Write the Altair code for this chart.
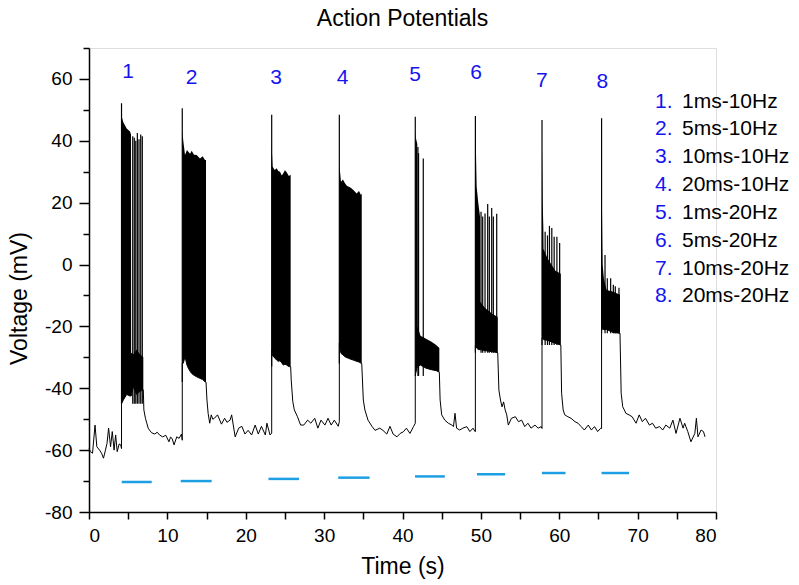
import altair as alt
import pandas as pd

# ---- recorded membrane potential (time in s, voltage in mV) ----
# resting stretches between stimulation trains
rest_t = [
    [0.0, 0.2, 0.45, 0.77, 1.0, 1.35, 1.6, 1.85, 2.1, 2.3, 2.5, 2.75, 2.97, 3.2, 3.4, 3.6, 3.85, 4.05, 4.15],
    [6.93, 7.0, 7.2, 7.4, 7.55, 7.8, 8.0, 8.4, 8.7, 9.0, 9.4, 9.8, 10.2, 10.4, 10.6, 10.85, 11.2, 11.5, 11.8, 11.9],
    [14.93, 15.05, 15.2, 15.4, 15.6, 15.8, 16.0, 16.4, 16.9, 17.3, 17.6, 18.0, 18.2, 18.65, 19.1, 19.5, 19.9,
     20.3, 20.75, 21.2, 21.6, 22.0, 22.5, 22.7, 23.1, 23.31],
    [25.73, 25.8, 26.0, 26.2, 26.6, 27.0, 27.4, 27.9, 28.3, 28.8, 29.2, 29.6, 30.1, 30.5, 30.9, 31.3, 31.8, 31.94],
    [34.8, 35.0, 35.2, 35.6, 36.1, 36.5, 37.1, 37.5, 38.0, 38.4, 38.8, 39.3, 39.7, 40.1, 40.5, 40.95, 41.4, 41.63],
    [44.7, 44.8, 45.0, 45.4, 45.85, 46.3, 46.5, 46.7, 46.9, 47.3, 47.7, 48.2, 48.6, 49.0, 49.25, 49.3],
    [52.15, 52.3, 52.5, 52.7, 52.9, 53.1, 53.3, 53.5, 53.9, 54.4, 54.8, 55.2, 55.6, 56.0, 56.4, 56.9, 57.3, 57.7, 57.8],
    [60.2, 60.3, 60.5, 60.7, 61.1, 61.5, 62.0, 62.4, 62.8, 63.2, 63.7, 64.1, 64.5, 64.9, 65.3, 65.4],
    [67.75, 67.9, 68.1, 68.3, 68.5, 68.9, 69.3, 69.8, 70.2, 70.6, 71.0, 71.5, 71.9, 72.3, 72.8, 73.2, 73.6, 74.1,
     74.5, 74.9, 75.4, 75.8, 76.0, 76.4, 76.8, 77.3, 77.5, 77.7, 78.1, 78.4, 78.6],
]
rest_v = [
    [-59.5, -60.5, -61, -51.9, -58.9, -60, -61, -62.6, -60, -57.8, -52.9, -58.9, -54, -60, -55.1, -60.5, -58, -58.3, -59.5],
    [-40.5, -47, -49.7, -51.5, -52.9, -53.8, -54.4, -54.8, -54.2, -55.1, -55.7, -55.2, -57.3, -55.8, -56.2, -58.3, -55.7, -56.2, -54.8, -56.8],
    [-38, -43.8, -48.1, -51.3, -48.6, -50, -49.7, -48.6, -51.6, -49.7, -51, -50.3, -48.6, -55.7, -52.9, -52.3, -54.8,
     -53.6, -55.1, -51.9, -54.8, -52.3, -55.1, -51.3, -55.1, -54.5],
    [-33, -37.3, -44.3, -47, -49.2, -51.9, -51.9, -50.3, -51.3, -49.7, -52.9, -50.3, -51.9, -49.7, -51.9, -50.3, -52.3, -50.8],
    [-32, -43.8, -47, -50.3, -52.3, -53.6, -52.9, -53.6, -54.8, -52.3, -54.8, -55.7, -54.6, -54.1, -52.9, -54.6, -52.4, -51.3],
    [-34.8, -43.8, -48.6, -50.3, -51.3, -51.9, -52.4, -48.1, -52.9, -53.5, -52.9, -52.4, -54, -52.9, -54, -54],
    [-28.5, -40.6, -43.8, -46, -44.4, -47, -48.6, -51.9, -49.7, -49.2, -50.8, -50.3, -52.4, -51.3, -52.9, -51.9, -52.9, -52.4, -53],
    [-26, -41.6, -47, -48.6, -49.2, -49.7, -50.8, -51.3, -52.4, -53.5, -51.9, -53.5, -52.4, -54, -52.9, -53],
    [-22.2, -41.6, -46, -47, -48.1, -48.6, -49.2, -51.3, -48.6, -50.8, -49.7, -51.9, -51.3, -52.9, -52.4, -53.5, -51.9, -52.9,
     -50.3, -54.6, -49.7, -52.9, -51.3, -54, -57.3, -54.6, -49.7, -55.7, -53.5, -54, -55.7],
]

# spike trains: upper (spike tips) and lower (troughs) envelopes of the dense firing
burst_t = [
    [4.15, 4.38, 4.81, 5.23, 5.36, 5.38, 5.66, 6.08, 6.5, 6.93],
    [11.9, 12.03, 12.25, 12.5, 12.67, 12.9, 13.1, 13.4, 13.74, 14.16, 14.5, 14.8, 14.93],
    [23.31, 23.35, 23.43, 23.7, 23.94, 24.15, 24.37, 24.6, 24.79, 25.0, 25.22, 25.5, 25.73],
    [31.94, 32.03, 32.15, 32.4, 32.66, 32.9, 33.09, 33.4, 33.73, 34.15, 34.45, 34.7, 34.8],
    [41.63, 41.7, 41.89, 41.92, 42.3, 43.0, 43.7, 44.3, 44.7],
    [49.3, 49.38, 49.46, 49.67, 49.89, 49.92, 50.5, 51.0, 51.5, 52.15],
    [57.8, 57.84, 57.88, 57.97, 58.0, 58.5, 59.0, 59.5, 60.2],
    [65.4, 65.45, 65.5, 65.54, 65.7, 66.05, 66.9, 67.75],
]
burst_hi = [
    [48, 46, 44, 43, 42, -28.5, -29, -27.5, -29, -30],
    [43.5, 40, 35.4, 37, 36.5, 35.8, 36.8, 35.5, 35.4, 34.3, 35, 33.8, 33.8],
    [38.7, 36, 31.6, 30.6, 31.1, 30.2, 30, 28.8, 29.5, 30.5, 29.8, 28.6, 29],
    [32.2, 30, 26.8, 27.5, 26.3, 25.5, 25.2, 24.8, 24.1, 23, 23.8, 22.5, 23],
    [43, 41, 39, -20, -23, -24, -25, -26, -27],
    [40, 35.4, 25.2, 19.9, 15.5, -12, -14, -15, -16, -17],
    [38, 29.6, 20.9, 11.8, 5, 2, 0, -2, -3],
    [30, 18.7, 6.9, -0.1, -4.7, -8.2, -8.8, -9.8],
]
burst_lo = [
    [-45, -43.8, -42, -42.5, -42.5, -42.5, -39.5, -42, -41, -40.5],
    [-31.9, -31.9, -29.8, -32.5, -33.5, -34.5, -35.2, -35.8, -36.3, -36.8, -37.2, -37.9, -38],
    [-27.6, -28.5, -29.5, -30.2, -30.9, -31.3, -31.1, -31.8, -32.5, -32.2, -32.5, -33, -33],
    [-25.5, -27, -28.7, -29.2, -29.8, -30.1, -30.3, -30.6, -30.9, -31.3, -31.5, -31.9, -32],
    [-36, -35, -33, -33, -32.5, -33.5, -34, -34.3, -34.8],
    [-26, -26.5, -27, -27.5, -27.5, -27.5, -27.8, -28, -28.2, -28.5],
    [-23.8, -23.8, -24, -24.2, -24.3, -24.5, -25, -25.5, -26],
    [-20.5, -20.5, -20.8, -21, -21, -21, -22, -22.2],
]

# first action potential of each train
peak_t = [4.15, 11.9, 23.31, 31.94, 41.63, 49.3, 57.8, 65.4]
peak_v = [52.1, 50.5, 48.4, 48.4, 47.8, 48.0, 46.7, 47.3]

# isolated spikes rising above the dense part of each train
spike_t = [
    [5.58, 5.78, 5.97, 6.17, 6.38, 6.6, 6.8],
    [],
    [],
    [],
    [41.97, 42.05, 42.65],
    [50.02, 50.23, 50.53, 50.87, 51.08, 51.38, 51.59, 52.02],
    [58.2, 58.5, 58.75, 59.05, 59.35, 59.7, 60.05],
    [65.84, 66.13, 66.56, 66.9, 67.15, 67.62],
]
spike_v = [
    [41.5, 41, 40, 42.5, 40.5, 42, 41.5],
    [],
    [],
    [],
    [38, 36, 34.3],
    [17.1, 15.5, 16.5, 19.6, 15.5, 18.3, 15.5, 16.4],
    [10.6, 9.4, 12.5, 11.8, 9.0, 9.0, 7.0],
    [3.1, -4.4, -4.4, -6.5, -7.0, -7.5],
]

# stimulation periods
stim_start = [4.17, 11.7, 22.9, 31.8, 41.6, 49.5, 57.8, 65.4]
stim_end = [8.0, 15.65, 26.8, 35.8, 45.4, 53.1, 60.8, 68.9]
stim_level = [-70.3, -70.0, -69.3, -68.9, -68.5, -67.8, -67.4, -67.4]

# train numbers above the trace
tag_text = ["1", "2", "3", "4", "5", "6", "7", "8"]
tag_t = [4.99, 13.1, 23.86, 32.36, 41.6, 49.4, 57.77, 65.5]
tag_v = [62.4, 60.2, 60.2, 60.2, 61.3, 62.0, 59.4, 59.1]

# stimulation protocols
protocols = ["1ms-10Hz", "5ms-10Hz", "10ms-10Hz", "20ms-10Hz",
             "1ms-20Hz", "5ms-20Hz", "10ms-20Hz", "20ms-20Hz"]

# ---- tables ----
trace_rows = []
for i in range(9):
    for t, v in zip(rest_t[i], rest_v[i]):
        trace_rows.append((t, v))
    if i < 8:
        for t, v in zip(burst_t[i], burst_lo[i]):
            trace_rows.append((t, v))
trace = pd.DataFrame(trace_rows, columns=["t", "v"])
trace["k"] = range(len(trace))

env_rows = []
for i in range(8):
    for t, hi, lo in zip(burst_t[i], burst_hi[i], burst_lo[i]):
        env_rows.append((i, t, hi, lo))
env = pd.DataFrame(env_rows, columns=["train", "t", "hi", "lo"])

spike_rows = []
for i in range(8):
    base = min(burst_lo[i])
    spike_rows.append((peak_t[i], base, peak_v[i]))
    for t, v in zip(spike_t[i], spike_v[i]):
        spike_rows.append((t, base, v))
spikes = pd.DataFrame(spike_rows, columns=["t", "base", "v"])

stim = pd.DataFrame({"t": stim_start, "t2": stim_end, "v": stim_level})
tags = pd.DataFrame({"t": tag_t, "v": tag_v, "label": tag_text})

row_step = 27.85 / 3.093  # mV per legend row
legend = pd.DataFrame({
    "num": [f"{i + 1}." for i in range(len(protocols))],
    "text": protocols,
    "v": [52.7 - i * row_step for i in range(len(protocols))],
})

# ---- scales and axes ----
FONT = "Liberation Sans"
x_scale = alt.Scale(domain=[0, 80], nice=False, zero=False)
y_scale = alt.Scale(domain=[-80, 70], nice=False, zero=False)

x_axis = alt.Axis(
    title="Time (s)",
    values=list(range(0, 81, 5)),
    labelExpr="datum.value % 10 === 0 ? datum.label : ''",
    grid=False, tickSize=7, tickWidth=1.5, tickColor="black",
    domainColor="black", domainWidth=1.5,
    labelFont=FONT, labelFontSize=19, labelColor="black", labelPadding=7,
    titleFont=FONT, titleFontSize=23, titleFontWeight="normal", titleColor="black", titlePadding=10,
)
y_axis = alt.Axis(
    title="Voltage (mV)",
    values=list(range(-80, 71, 10)),
    labelExpr="datum.value % 20 === 0 ? replace(datum.label, '\u2212', '-') : ''",
    grid=False,
    tickSize={"condition": {"test": "datum.value % 20 === 0", "value": 10}, "value": 6},
    tickWidth=1.5, tickColor="black",
    domainColor="black", domainWidth=1.5,
    labelFont=FONT, labelFontSize=19, labelColor="black", labelPadding=7,
    titleFont=FONT, titleFontSize=23, titleFontWeight="normal", titleColor="black", titlePadding=13,
    titleY=250,
)


def X(field):
    return alt.X(f"{field}:Q", scale=x_scale, axis=x_axis)


def Y(field):
    return alt.Y(f"{field}:Q", scale=y_scale, axis=y_axis)


trace_layer = alt.Chart(trace).mark_line(color="black", strokeWidth=1, interpolate="linear").encode(
    x=X("t"), y=Y("v"), order=alt.Order("k:Q")
)

env_layer = alt.Chart(env).mark_area(color="black", opacity=1, interpolate="linear").encode(
    x=X("t"), y=Y("hi"), y2=alt.Y2("lo"), detail="train:N"
)

spike_layer = alt.Chart(spikes).mark_rule(color="black", strokeWidth=1.2).encode(
    x=X("t"), y=Y("base"), y2=alt.Y2("v")
)

stim_layer = alt.Chart(stim).mark_rule(color="#1E9FE3", strokeWidth=2.5).encode(
    x=X("t"), x2=alt.X2("t2"), y=Y("v")
)

tag_layer = alt.Chart(tags).mark_text(
    color="#1414F0", font=FONT, fontSize=21, align="center", baseline="middle"
).encode(x=X("t"), y=Y("v"), text="label:N")

legend_num = alt.Chart(legend).mark_text(
    color="#1414F0", font=FONT, fontSize=21, align="left", baseline="middle"
).encode(x=alt.value(566), y=Y("v"), text="num:N")

legend_txt = alt.Chart(legend).mark_text(
    color="black", font=FONT, fontSize=21, align="left", baseline="middle"
).encode(x=alt.value(593), y=Y("v"), text="text:N")

chart = alt.layer(
    stim_layer, trace_layer, env_layer, spike_layer, tag_layer, legend_num, legend_txt
).properties(
    width=627,
    height=464,
    title=alt.TitleParams(
        "Action Potentials", font=FONT, fontSize=23, fontWeight="normal", color="black",
        anchor="middle", offset=16,
    ),
    autosize=alt.AutoSizeParams(type="none"),
    padding={"left": 89, "top": 48, "right": 83, "bottom": 73},
).configure_view(stroke=None).configure(background="white")

chart.save("out.html", embed_options={"renderer": "svg", "actions": False})
